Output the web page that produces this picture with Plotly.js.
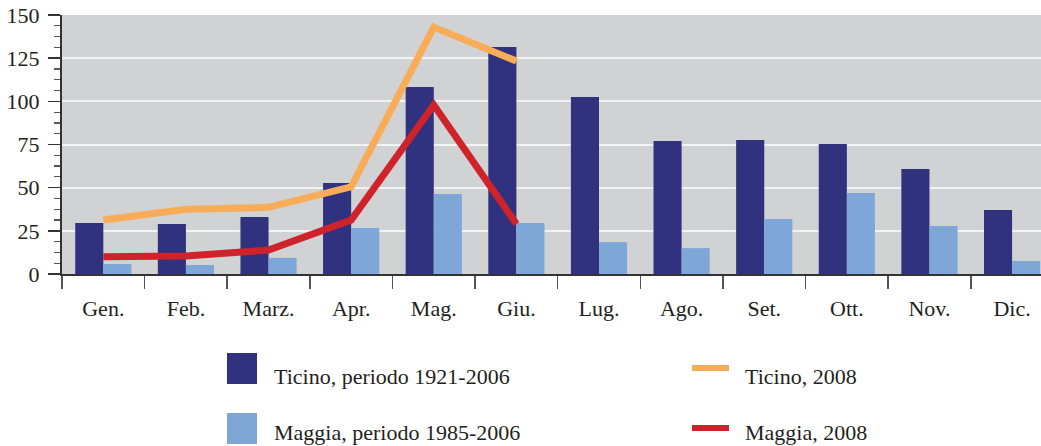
<!DOCTYPE html>
<html><head><meta charset="utf-8">
<script src="https://cdn.plot.ly/plotly-3.0.1.min.js"></script>
<style>html,body{margin:0;padding:0;background:#fff}#chart{width:1041px;height:446px}</style>
</head><body><div id="chart"></div>
<script>
const months = ["Gen.","Feb.","Marz.","Apr.","Mag.","Giu.","Lug.","Ago.","Set.","Ott.","Nov.","Dic."];
const ticinoAvg = [29.5,29,33,52.7,108.3,131.4,102.5,77,77.6,75.3,60.8,37];
const maggiaAvg = [5.8,5.2,9.3,26.6,46.3,29.5,18.5,15,31.8,46.9,27.8,7.5];
const months2008 = ["Gen.","Feb.","Marz.","Apr.","Mag.","Giu."];
const ticino2008 = [31.3,37.5,38.6,50.5,143,123.3];
const maggia2008 = [10,10.4,13.9,31.3,97.9,29];
const legendNames = ["Ticino, periodo 1921-2006","Maggia, periodo 1985-2006","Ticino, 2008","Maggia, 2008"];

const C = {dark:"#30317f", light:"#7ea7d8", orange:"#f9ac58", red:"#cf232b", bg:"#d1d2d4"};
const FAM = "Liberation Serif, Times New Roman, DejaVu Serif, serif";
const f = s => ({family:FAM, size:s, color:"#231f20"});

const data = [
  {type:"bar", x:months, y:ticinoAvg, name:legendNames[0], marker:{color:C.dark}},
  {type:"bar", x:months, y:maggiaAvg, name:legendNames[1], marker:{color:C.light}},
  {type:"scatter", mode:"lines", x:months2008, y:ticino2008, name:legendNames[2], line:{color:C.orange, width:7}},
  {type:"scatter", mode:"lines", x:months2008, y:maggia2008, name:legendNames[3], line:{color:C.red, width:7}}
];

const H = 446, W = 1041, ml = 62, mt = 15, mb = 172;
const pw = W - ml, ph = H - mt - mb;
const px = x => (x - ml) / pw;
const py = y => (H - mb - y) / ph;
const shapes = [
  {type:"rect", xref:"paper", yref:"paper", x0:px(227), x1:px(257), y0:py(384), y1:py(353), fillcolor:C.dark, line:{width:0}},
  {type:"rect", xref:"paper", yref:"paper", x0:px(227), x1:px(257), y0:py(444), y1:py(413), fillcolor:C.light, line:{width:0}},
  {type:"line", xref:"paper", yref:"paper", x0:px(692), x1:px(729), y0:py(368), y1:py(368), line:{color:C.orange, width:6}},
  {type:"line", xref:"paper", yref:"paper", x0:px(692), x1:px(729), y0:py(428), y1:py(428), line:{color:C.red, width:6}}
];
const ann = (t, x, y) => ({text:t, xref:"paper", yref:"paper", x:px(x), y:py(y), xanchor:"left", yanchor:"middle", showarrow:false, font:f(22)});
const annotations = [
  ann(legendNames[0], 272, 376),
  ann(legendNames[1], 272, 432),
  ann(legendNames[2], 743, 376),
  ann(legendNames[3], 743, 432)
];

const layout = {
  width:W, height:H,
  margin:{l:ml, r:0, t:mt, b:mb},
  paper_bgcolor:"#fff", plot_bgcolor:C.bg,
  showlegend:false,
  barmode:"group", bargap:0.32, bargroupgap:0,
  font:f(22),
  xaxis:{type:"category", range:[-0.5, 11.35], tickson:"boundaries", ticks:"outside", ticklen:13, tickwidth:1.5, tickcolor:"#555",
    showline:true, linecolor:"#333", linewidth:2, showgrid:false, tickfont:f(22), ticklabelstandoff:14, fixedrange:true},
  yaxis:{range:[0,150], dtick:25, ticks:"outside", ticklen:12, tickwidth:1.5, tickcolor:"#333",
    showline:true, linecolor:"#333", linewidth:2, showgrid:true, gridcolor:"#f2f2f2", gridwidth:2, zeroline:false,
    minor:{dtick:6.25, ticks:"outside", ticklen:6, tickcolor:"#555", tickwidth:1.2, showgrid:false},
    tickfont:f(22), ticklabelstandoff:4, fixedrange:true},
  shapes, annotations
};
Plotly.newPlot("chart", data, layout, {displayModeBar:false, staticPlot:true});
</script></body></html>
